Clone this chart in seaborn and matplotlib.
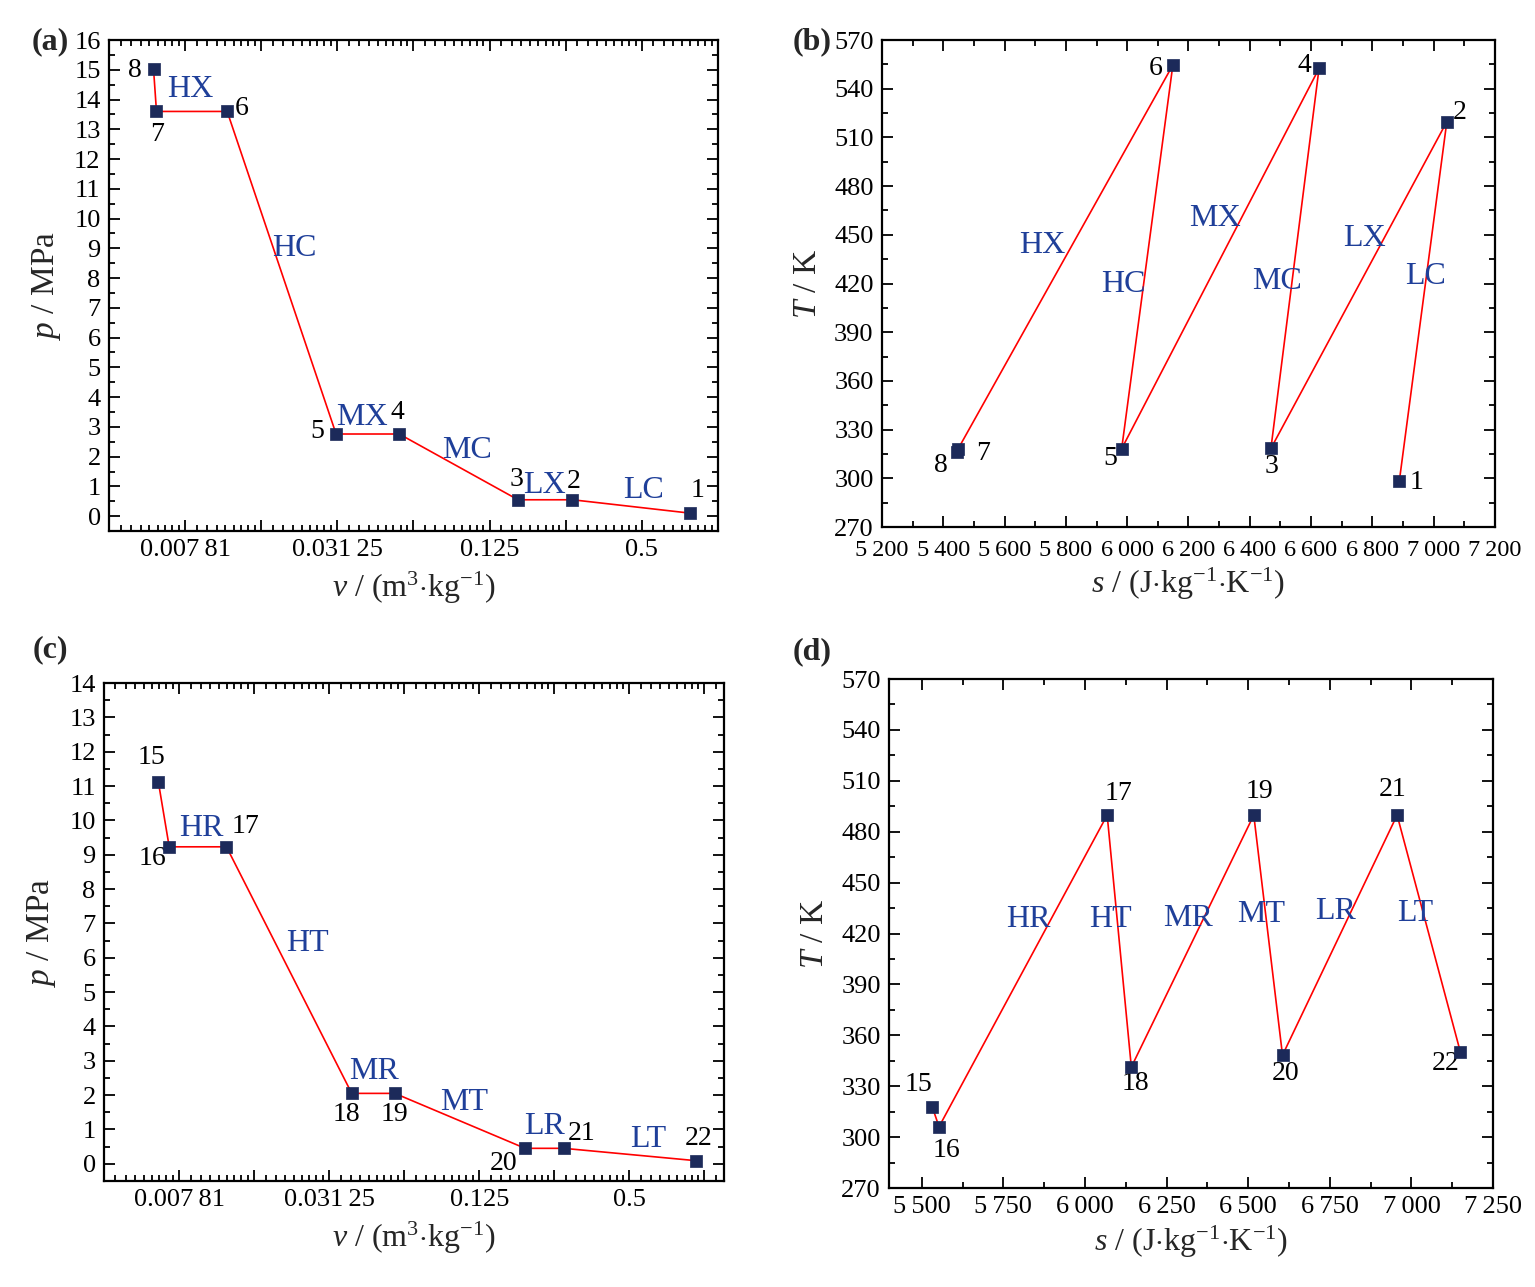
import numpy as np
import pandas as pd
import seaborn as sns
import matplotlib.pyplot as plt
from matplotlib.ticker import FixedLocator, MultipleLocator

sns.set_style('ticks')
plt.rcParams['font.family'] = ['Liberation Serif', 'DejaVu Serif']
plt.rcParams['mathtext.fontset'] = 'custom'
plt.rcParams['mathtext.rm'] = 'Liberation Serif'
plt.rcParams['mathtext.it'] = 'Liberation Serif:italic'

# states 1-8 (compression / expansion cycle)
states_top = ['1', '2', '3', '4', '5', '6', '7', '8']
v_top = [0.777, 0.266, 0.162, 0.0549, 0.0309, 0.01146, 0.00602, 0.00586]
p_top = [0.10, 0.55, 0.55, 2.76, 2.76, 13.6, 13.6, 15.03]
s_top = [6888, 7043, 6469, 6626, 5982, 6149, 5448, 5445]
T_top = [298.3, 519.7, 318.4, 552.5, 318.2, 554.6, 318.0, 316.5]

# states 15-22 (reheat / turbine cycle)
states_bot = ['15', '16', '17', '18', '19', '20', '21', '22']
v_bot = [0.00645, 0.00713, 0.0121, 0.0385, 0.0573, 0.191, 0.273, 0.927]
p_bot = [11.12, 9.23, 9.23, 2.05, 2.05, 0.45, 0.45, 0.09]
s_bot = [5532, 5553, 6068, 6142, 6517, 6605, 6956, 7150]
T_bot = [318.0, 306.1, 489.8, 341.3, 489.8, 348.3, 489.8, 350.0]

# process names
proc_top = ['LC', 'LX', 'MC', 'MX', 'HC', 'HX']
proc_bot = ['HR', 'HT', 'MR', 'MT', 'LR', 'LT']

# process label positions (data coords)
lab_a_x = [0.507, 0.206, 0.1015, 0.039, 0.0211, 0.0082]
lab_a_y = [0.87, 1.04, 2.21, 3.32, 8.99, 14.33]
lab_b_x = [6972, 6773, 6489, 6287, 5986, 5722]
lab_b_y = [424.6, 448, 421, 460, 419.7, 443.7]
lab_c_x = [0.00956, 0.0256, 0.0474, 0.1088, 0.228, 0.594]
lab_c_y = [9.76, 6.41, 2.68, 1.78, 1.08, 0.70]
lab_d_x = [5826, 6077, 6316, 6539, 6769, 7011]
lab_d_y = [428, 428, 429, 431.5, 432.7, 432]

# state number offsets (pixels)
off_a = [(7, 23), (1, 18), (-2, 20), (-2, 22), (-19, 3), (15, 3), (1, -23), (-19, -2)]
off_b = [(17, -1), (13, 9), (1, -18), (-15, 3), (-11, -10), (-17, -3), (25, -4), (-16, -14)]
off_c = [(-7, 24), (-17, -12), (19, 20), (-5, -21), (0, -21), (-22, -15), (18, 15), (3, 22)]
off_d = [(-14, 22), (7, -24), (11, 22), (4, -16), (6, 24), (3, -18), (-4, 26), (-15, -11)]

LINE = '#ff0000'
MARK = '#1c2a5a'
BLUE = '#1f3f99'


def draw(ax, x, y, names, offs, procs, px, py, tsize=19):
    df = pd.DataFrame({'x': x, 'y': y, 'n': names})
    sns.lineplot(data=df, x='x', y='y', sort=False, estimator=None,
                 color=LINE, lw=1.2, ax=ax)
    sns.scatterplot(data=df, x='x', y='y', marker='s', s=64, color=MARK,
                    edgecolor=MARK, linewidth=0.5, zorder=5, ax=ax)
    for xi, yi, n, (dx, dy) in zip(x, y, names, offs):
        ax.annotate(n, (xi, yi), xytext=(dx, dy), textcoords='offset pixels',
                    ha='center', va='center', fontsize=20, color='black')
    for t, tx, ty in zip(procs, px, py):
        ax.text(tx, ty, t, ha='center', va='center', fontsize=23, color=BLUE)
    ax.tick_params(which='both', direction='in', top=True, right=True,
                   labelsize=tsize, width=1.3, colors='black', pad=6)
    ax.tick_params(which='major', length=8)
    ax.tick_params(which='minor', length=4.5)
    for sp in ax.spines.values():
        sp.set_linewidth(1.6)
        sp.set_color('black')


def log2_axis(ax, right):
    ax.set_xscale('log', base=2)
    ax.set_xlim(2 ** -8, right)
    major = [2.0 ** e for e in range(-8, 1)]
    labels = ['', '0.007\u200981', '', '0.031\u200925', '', '0.125', '', '0.5', '']
    ax.xaxis.set_major_locator(FixedLocator(major))
    ax.set_xticklabels(labels)
    minor = [2.0 ** e * (1 + k / 9) for e in range(-8, 1) for k in range(1, 9)]
    ax.xaxis.set_minor_locator(FixedLocator(minor))
    ax.xaxis.set_minor_formatter(plt.NullFormatter())


fig = plt.figure(figsize=(15.35, 12.87), dpi=100)
ax_a = fig.add_axes([0.0710, 0.5874, 0.3967, 0.3815])
ax_b = fig.add_axes([0.5746, 0.5905, 0.3993, 0.3784])
ax_c = fig.add_axes([0.0678, 0.0824, 0.4039, 0.3869])
ax_d = fig.add_axes([0.5792, 0.0769, 0.3935, 0.3955])

draw(ax_a, v_top, p_top, states_top, off_a, proc_top, lab_a_x, lab_a_y)
draw(ax_b, s_top, T_top, states_top, off_b, proc_top, lab_b_x, lab_b_y)
draw(ax_c, v_bot, p_bot, states_bot, off_c, proc_bot, lab_c_x, lab_c_y)
draw(ax_d, s_bot, T_bot, states_bot, off_d, proc_bot, lab_d_x, lab_d_y)

# p-v panels
log2_axis(ax_a, 1.0)
ax_a.set_ylim(-0.5, 16)
ax_a.yaxis.set_major_locator(MultipleLocator(1))
ax_a.yaxis.set_minor_locator(MultipleLocator(0.5))
log2_axis(ax_c, 1.2)
ax_c.set_ylim(-0.5, 14)
ax_c.yaxis.set_major_locator(MultipleLocator(1))
ax_c.yaxis.set_minor_locator(MultipleLocator(0.5))

vlabel = r'$v$ / (m$^{3}$$\cdot$kg$^{-1}$)'
slabel = r'$s$ / (J$\cdot$kg$^{-1}$$\cdot$K$^{-1}$)'
for ax in (ax_a, ax_c):
    ax.set_xlabel(vlabel, fontsize=23, labelpad=6)
    ax.set_ylabel(r'$p$ / MPa', fontsize=24, labelpad=8)

# T-s panels
ax_b.set_xlim(5200, 7200)
ax_b.xaxis.set_major_locator(MultipleLocator(200))
ax_b.xaxis.set_minor_locator(MultipleLocator(100))
ax_d.set_xlim(5400, 7250)
ax_d.xaxis.set_major_locator(FixedLocator(np.arange(5500, 7251, 250)))
ax_d.xaxis.set_minor_locator(FixedLocator(np.arange(5375, 7251, 125)))
for ax in (ax_b, ax_d):
    ax.set_ylim(270, 570)
    ax.yaxis.set_major_locator(MultipleLocator(30))
    ax.yaxis.set_minor_locator(MultipleLocator(15))
    ax.xaxis.set_major_formatter(plt.FuncFormatter(
        lambda val, pos: f'{int(val):,}'.replace(',', '\u2009')))
    ax.set_xlabel(slabel, fontsize=23, labelpad=4)
    ax.set_ylabel(r'$T$ / K', fontsize=24, labelpad=8)
# the crowded s axis of (b) needs slightly smaller labels
ax_b.tick_params(axis='x', labelsize=17.5, pad=9)

for t, x, y in [('(a)', 0.0326, 0.9674), ('(b)', 0.529, 0.9674),
                ('(c)', 0.0326, 0.4950), ('(d)', 0.529, 0.4934)]:
    fig.text(x, y, t, fontsize=23, fontweight='bold', ha='center', va='center')

fig.savefig('out.png', dpi=100)
